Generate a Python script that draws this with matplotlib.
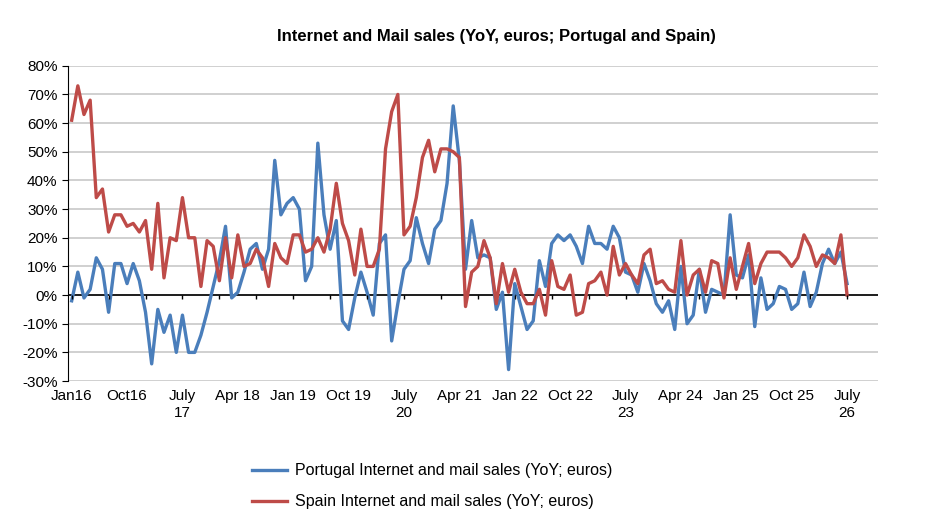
import matplotlib

matplotlib.use("Agg")
import matplotlib.pyplot as plt
from matplotlib.ticker import PercentFormatter
import numpy as np

plt.rcParams["font.family"] = ["Liberation Sans", "DejaVu Sans"]
plt.rcParams["axes.unicode_minus"] = False

# monthly YoY %, Jan 2016 .. Jul 2026
portugal = [
    -2, 8, -1, 2, 13, 9, -6, 11, 11, 4, 11, 5, -6, -24, -5, -13, -7, -20, -7, -20,
    -20, -14, -6, 3, 12, 24, -1, 1, 8, 16, 18, 9, 16, 47, 28, 32, 34, 30, 5, 10,
    53, 28, 16, 26, -9, -12, -1,
    8, 1, -7, 18, 21, -16, -3, 9, 12, 27, 18, 11, 23, 26, 39, 66, 47, 9, 26, 13,
    14, 13, -5, 1, -26, 4, -4, -12, -9, 12, 3, 18, 21, 19, 21, 17, 11, 24, 18, 18,
    16, 24, 20, 8, 7, 1,
    11, 5, -3, -6, -2, -12, 10, -10, -7, 9, -6, 2, 1, 0, 28, 7, 6, 14, -11, 6,
    -5, -3, 3, 2, -5, -3, 8, -4, 1, 11, 16, 11, 15, 4,
]
spain = [
    61, 73, 63, 68, 34, 37, 22, 28, 28, 24, 25, 22, 26, 9, 32, 6, 20, 19, 34, 20,
    20, 3, 19, 17, 5, 20, 6, 21, 10, 11, 16, 13, 3, 18, 13, 11, 21, 21, 15, 16,
    20, 15, 23, 39, 25, 19, 7,
    23, 10, 10, 16, 51, 64, 70, 21, 24, 34, 48, 54, 43, 51, 51, 50, 48,
    -4, 8, 10, 19, 13, -3, 11, 1, 9, 1, -3, -3, 2, -7, 12, 3, 2, 7, -7, -6,
    4, 5, 8, 0, 17, 7, 11, 7, 4,
    14, 16, 4, 5, 2, 1, 19, 0, 7, 9, 1, 12, 11, -1, 13, 2, 10, 18, 4, 11,
    15, 15, 15, 13, 10, 13, 21, 17, 10, 14, 13, 11, 21, 0,
]
x_labels = ["Jan16", "Oct16", "July\n17", "Apr 18", "Jan 19", "Oct 19", "July\n20",
            "Apr 21", "Jan 22", "Oct 22", "July\n23", "Apr 24", "Jan 25", "Oct 25",
            "July\n26"]

months = np.arange(len(spain))

fig = plt.figure(figsize=(9.25, 5.22), dpi=100)
ax = fig.add_axes([0.0735, 0.27, 0.8755, 0.604])

ax.plot(months, portugal, color="#4a7ebb", lw=2.4,
        label="Portugal Internet and mail sales (YoY; euros)")
ax.plot(months, spain, color="#be4b48", lw=2.4,
        label="Spain Internet and mail sales (YoY; euros)")

ax.set_ylim(-30, 80)
ax.set_yticks(np.arange(-30, 81, 10))
ax.yaxis.set_major_formatter(PercentFormatter(decimals=0))
ax.set_xlim(-0.6, 131)
ax.grid(axis="y", color="#c8c8c8", lw=1.2)
ax.set_axisbelow(True)

ax.axhline(0, color="black", lw=1.2, zorder=1)
tick_months = np.arange(0, 132, 6)
ax.vlines(tick_months, -1.2, 0, color="black", lw=1)

ax.set_xticks(np.arange(0, len(spain), 9))
ax.set_xticklabels(x_labels, va="top")
ax.tick_params(axis="x", length=0, labelsize=11, pad=6)
ax.tick_params(axis="y", labelsize=11, length=4, color="black")
for side in ["top", "right", "bottom"]:
    ax.spines[side].set_visible(False)
ax.spines["left"].set_color("black")

fig.text(0.537, 0.922, "Internet and Mail sales (YoY, euros; Portugal and Spain)",
         ha="center", fontsize=12, fontweight="bold")
fig.legend(loc="upper left", bbox_to_anchor=(0.257, 0.14), frameon=False,
           fontsize=11.5, handlelength=2.2, handletextpad=0.5, labelspacing=1.0)

fig.savefig("out.png", dpi=100)
